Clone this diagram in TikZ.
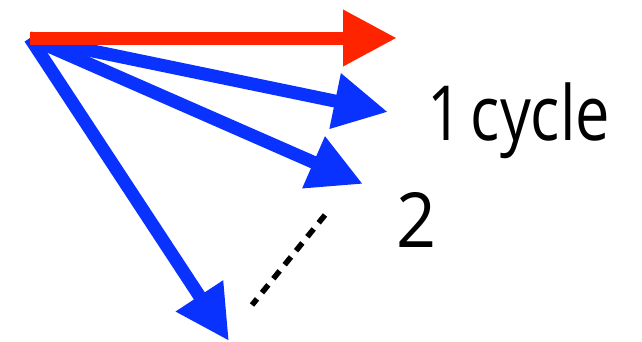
\documentclass[tikz,border=0pt]{standalone}
\usepackage{fontspec}
\usepackage{graphicx}
\setmainfont{Open Sans}
\usetikzlibrary{arrows.meta}
\definecolor{vred}{RGB}{255,36,0}
\definecolor{vblue}{RGB}{10,50,255}
\tikzset{
  vec/.style={line width=13pt, -{Triangle[length=54pt,width=53pt]}},
  lbl/.style={inner sep=0pt, font=\fontsize{76}{80}\selectfont},
  dots/.style={line width=5.5pt, dash pattern=on 10pt off 8pt}
}
\begin{document}
\begin{tikzpicture}[x=1pt,y=-1pt]
\useasboundingbox (0,0) rectangle (642,341);
\coordinate (o) at (30,38);
\coordinate (r) at (397,38);
\coordinate (b1) at (388,112);
\coordinate (b2) at (363,184);
\coordinate (b3) at (229,341);
\coordinate (d1) at (325,215);
\coordinate (d2) at (252,305);
\draw[vec, vblue] (o) -- (b1);
\draw[vec, vblue] (o) -- (b2);
\draw[vec, vblue] (o) -- (b3);
\draw[vec, vred] (o) -- (r);
\draw[dots] (d1) -- (d2);
\node[lbl, anchor=base west] (t1) at (427,140) {\resizebox{183pt}{\height}{1\kern-0.12em\ cycle}};
\node[lbl, anchor=base west] (t2) at (396,247) {\resizebox{40pt}{\height}{2}};
\end{tikzpicture}
\end{document}
